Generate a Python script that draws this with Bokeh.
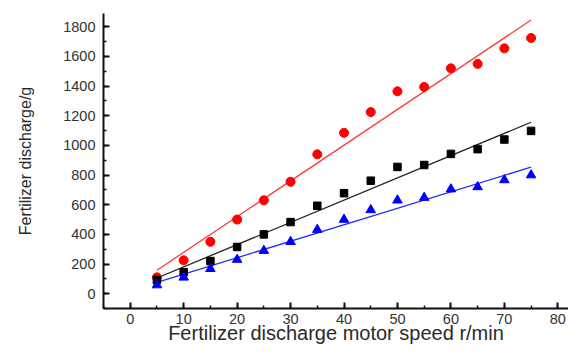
import numpy as np
from bokeh.plotting import figure
from bokeh.models import SingleIntervalTicker, Range1d
from bokeh.embed import file_html
from bokeh.resources import INLINE

speed = [5, 10, 15, 20, 25, 30, 35, 40, 45, 50, 55, 60, 65, 70, 75]
red_vals = [110, 225, 350, 500, 630, 755, 940, 1085, 1225, 1365, 1395, 1520, 1550, 1655, 1725]
black_vals = [92, 145, 220, 315, 400, 483, 593, 678, 762, 855, 868, 943, 975, 1040, 1098]
blue_vals = [58, 110, 168, 230, 290, 350, 432, 500, 565, 630, 648, 705, 720, 767, 800]

x_title = "Fertilizer discharge motor speed r/min"
y_title = "Fertilizer discharge/g"

p = figure(width=568, height=346, output_backend="svg", toolbar_location=None,
           x_range=Range1d(-5, 82), y_range=Range1d(-100, 1890),
           min_border_left=103, min_border_right=0, min_border_top=13, min_border_bottom=38)
p.outline_line_color = None
p.xgrid.visible = False
p.ygrid.visible = False

def fit_line(xs, ys, color):
    k, b = np.polyfit(xs, ys, 1)
    xx = np.array([xs[0], xs[-1]])
    p.line(xx, k * xx + b, line_color=color, line_width=1.3)

fit_line(speed, red_vals, "#ff3c3c")
fit_line(speed, black_vals, "#202020")
fit_line(speed, blue_vals, "#2a2aff")

p.scatter(speed, red_vals, marker="circle", size=9, fill_color="#ff0000", line_color="#ff0000")
p.scatter(speed, black_vals, marker="square", size=7.5, fill_color="#000000", line_color="#000000")
p.scatter(speed, blue_vals, marker="triangle", size=9.5, fill_color="#0000ff", line_color="#0000ff")

p.xaxis.ticker = SingleIntervalTicker(interval=10, num_minor_ticks=2)
p.yaxis.ticker = SingleIntervalTicker(interval=200, num_minor_ticks=2)

for ax in (p.xaxis[0], p.yaxis[0]):
    ax.axis_line_width = 2
    ax.axis_line_color = "#111111"
    ax.major_tick_in = 6
    ax.major_tick_out = 0
    ax.minor_tick_in = 3
    ax.minor_tick_out = 0
    ax.major_tick_line_width = 2
    ax.minor_tick_line_width = 1.5
    ax.major_tick_line_color = "#111111"
    ax.minor_tick_line_color = "#111111"
    ax.major_label_text_font = "Liberation Sans"
    ax.major_label_text_font_size = "14.5px"
    ax.major_label_text_color = "#333333"
    ax.axis_label_text_font = "Liberation Sans"
    ax.axis_label_text_font_style = "normal"
    ax.axis_label_text_color = "#2a2a2a"

p.xaxis.axis_label = x_title
p.yaxis.axis_label = y_title
p.xaxis.axis_label_text_font_size = "20px"
p.yaxis.axis_label_text_font_size = "16px"
p.xaxis.major_label_standoff = 5
p.yaxis.major_label_standoff = 8
p.xaxis.axis_label_standoff = -5
p.yaxis.axis_label_standoff = 26

open("out.html", "w").write(file_html(p, INLINE))
